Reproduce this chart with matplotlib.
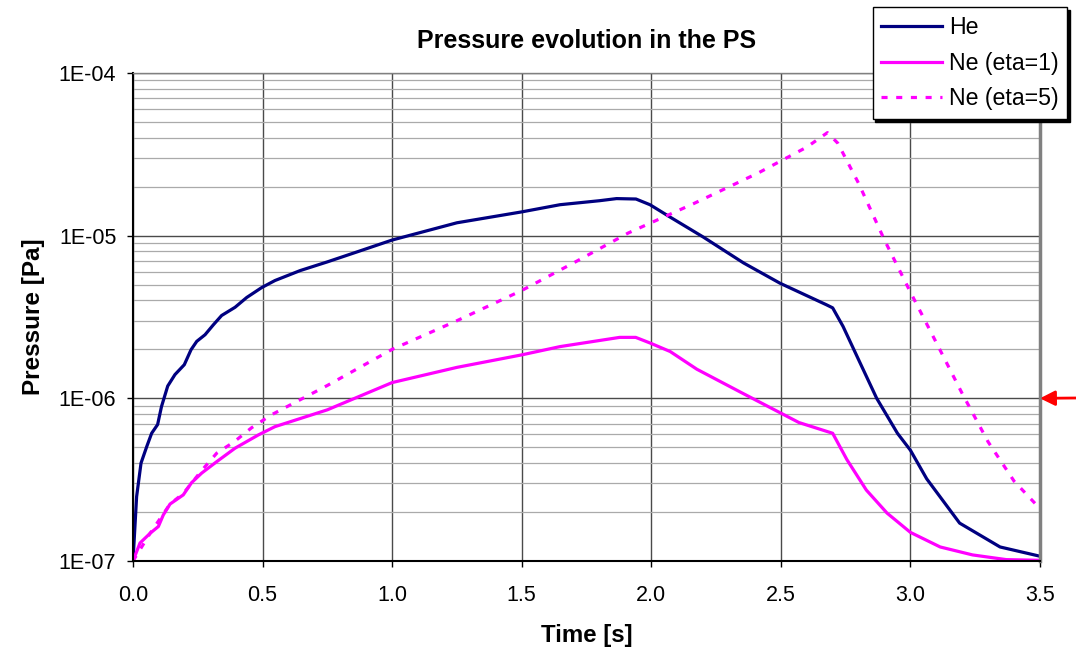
import matplotlib
matplotlib.use("Agg")
import matplotlib.pyplot as plt
import numpy as np

plt.rcParams['font.family'] = ['Liberation Sans', 'DejaVu Sans']

# He
t_he = [0.0, 0.014, 0.031, 0.053, 0.072, 0.095, 0.11, 0.134, 0.162, 0.198, 0.224, 0.246,
        0.278, 0.31, 0.342, 0.394, 0.439, 0.497, 0.548, 0.645, 0.75, 0.87, 1.0, 1.25, 1.5,
        1.648, 1.80, 1.866, 1.941, 1.995, 2.073, 2.201, 2.356, 2.497, 2.676, 2.70, 2.74,
        2.806, 2.87, 2.95, 3.0, 3.063, 3.19, 3.346, 3.5]
p_he = [1e-7, 2.49e-7, 4.0e-7, 5.05e-7, 6.1e-7, 6.9e-7, 8.9e-7, 1.19e-6, 1.40e-6, 1.61e-6,
        1.99e-6, 2.24e-6, 2.46e-6, 2.83e-6, 3.23e-6, 3.63e-6, 4.17e-6, 4.8e-6, 5.3e-6,
        6.1e-6, 6.9e-6, 8.0e-6, 9.4e-6, 1.2e-5, 1.4e-5, 1.55e-5, 1.64e-5, 1.69e-5, 1.68e-5,
        1.55e-5, 1.30e-5, 9.8e-6, 6.8e-6, 5.1e-6, 3.76e-6, 3.6e-6, 2.77e-6, 1.65e-6,
        1.0e-6, 6.1e-7, 4.8e-7, 3.2e-7, 1.71e-7, 1.22e-7, 1.07e-7]

# Ne (eta=1)
t_ne1 = [0.0, 0.027, 0.066, 0.098, 0.117, 0.143, 0.194, 0.226, 0.265, 0.323, 0.394, 0.484,
         0.548, 0.75, 1.0, 1.25, 1.5, 1.648, 1.878, 1.94, 1.995, 2.073, 2.176, 2.35, 2.57,
         2.70, 2.755, 2.83, 2.91, 3.0, 3.115, 3.24, 3.37, 3.5]
p_ne1 = [1e-7, 1.29e-7, 1.48e-7, 1.63e-7, 1.92e-7, 2.24e-7, 2.55e-7, 3.03e-7, 3.47e-7,
         4.08e-7, 4.94e-7, 5.96e-7, 6.7e-7, 8.5e-7, 1.25e-6, 1.55e-6, 1.85e-6, 2.08e-6,
         2.37e-6, 2.37e-6, 2.19e-6, 1.94e-6, 1.51e-6, 1.08e-6, 7.1e-7, 6.1e-7, 4.2e-7,
         2.73e-7, 1.97e-7, 1.5e-7, 1.22e-7, 1.09e-7, 1.02e-7, 1.01e-7]

# Ne (eta=5)
t_ne5 = [0.0, 0.066, 0.143, 0.194, 0.265, 0.323, 0.39, 0.458, 0.533, 0.75, 1.0, 1.25, 1.5,
         1.70, 1.912, 2.162, 2.413, 2.6, 2.68, 2.72, 2.8, 2.9, 3.0, 3.1, 3.2, 3.3, 3.4, 3.5]
p_ne5 = [1e-7, 1.48e-7, 2.24e-7, 2.6e-7, 3.6e-7, 4.6e-7, 5.4e-7, 6.6e-7, 7.9e-7, 1.2e-6,
         2.0e-6, 3.0e-6, 4.6e-6, 6.8e-6, 1.04e-5, 1.57e-5, 2.43e-5, 3.5e-5, 4.3e-5, 3.7e-5,
         2.1e-5, 9.4e-6, 4.5e-6, 2.2e-6, 1.07e-6, 5.4e-7, 3.1e-7, 2.1e-7]

x_ticks = [0.0, 0.5, 1.0, 1.5, 2.0, 2.5, 3.0, 3.5]
y_ticks = [1e-7, 1e-6, 1e-5, 1e-4]
y_labels = ['1E-07', '1E-06', '1E-05', '1E-04']

fig = plt.figure(figsize=(10.76, 6.5), dpi=100)
ax = fig.add_axes([0.1236, 0.1369, 0.9665 - 0.1236, 0.8877 - 0.1369])

ax.plot(t_he, p_he, color='#000080', lw=2.3, label='He')
ax.plot(t_ne1, p_ne1, color='#ff00ff', lw=2.3, label='Ne (eta=1)')
ax.plot(t_ne5, p_ne5, color='#ff00ff', lw=2.3, linestyle=(0, (1.9, 2.7)), label='Ne (eta=5)')

ax.set_yscale('log')
ax.set_xlim(0, 3.5)
ax.set_ylim(1e-7, 1e-4)
ax.set_xticks(x_ticks)
ax.set_xticklabels([f'{v:.1f}' for v in x_ticks])
ax.set_yticks(y_ticks)
ax.set_yticklabels(y_labels)
ax.yaxis.set_minor_locator(matplotlib.ticker.LogLocator(base=10, subs=np.arange(2, 10)))
ax.yaxis.set_minor_formatter(matplotlib.ticker.NullFormatter())
ax.tick_params(axis='both', which='major', labelsize=15.5, length=4.5, width=1, direction='out')
ax.tick_params(axis='x', which='major', pad=12.5)
ax.tick_params(axis='y', which='major', pad=7.5)
ax.tick_params(axis='y', which='minor', length=0)

ax.grid(True, which='major', axis='both', color='#4a4a4a', lw=1)
ax.grid(True, which='minor', axis='y', color='#aaaaaa', lw=0.9)
ax.set_axisbelow(True)

for s in ['left', 'bottom']:
    ax.spines[s].set_color('black')
    ax.spines[s].set_linewidth(1.5)
ax.spines['top'].set_color('#808080')
ax.spines['top'].set_linewidth(1)
ax.spines['right'].set_color('#808080')
ax.spines['right'].set_linewidth(2.5)

ax.set_title('Pressure evolution in the PS', fontsize=18, fontweight='bold', pad=18)
ax.set_xlabel('Time [s]', fontsize=17.3, fontweight='bold', labelpad=13)
ax.set_ylabel('Pressure [Pa]', fontsize=17.5, fontweight='bold', labelpad=10)

leg = fig.legend(loc='upper left', bbox_to_anchor=(0.811, 0.989), fontsize=16.7,
                 frameon=True, fancybox=False, edgecolor='black', framealpha=1,
                 handlelength=2.6, handletextpad=0.3, labelspacing=0.55,
                 borderpad=0.38, borderaxespad=0,
                 shadow={'color': 'black', 'alpha': 1})
leg.get_frame().set_linewidth(1)

ax.annotate('', xy=(3.5, 1e-6), xycoords='data', xytext=(1.0, 1 - 398 / 650),
            textcoords='figure fraction', annotation_clip=False,
            arrowprops=dict(arrowstyle='-|>,head_length=0.9,head_width=0.45',
                            color='red', lw=2, shrinkA=0, shrinkB=0))

fig.savefig('out.png', dpi=100)
